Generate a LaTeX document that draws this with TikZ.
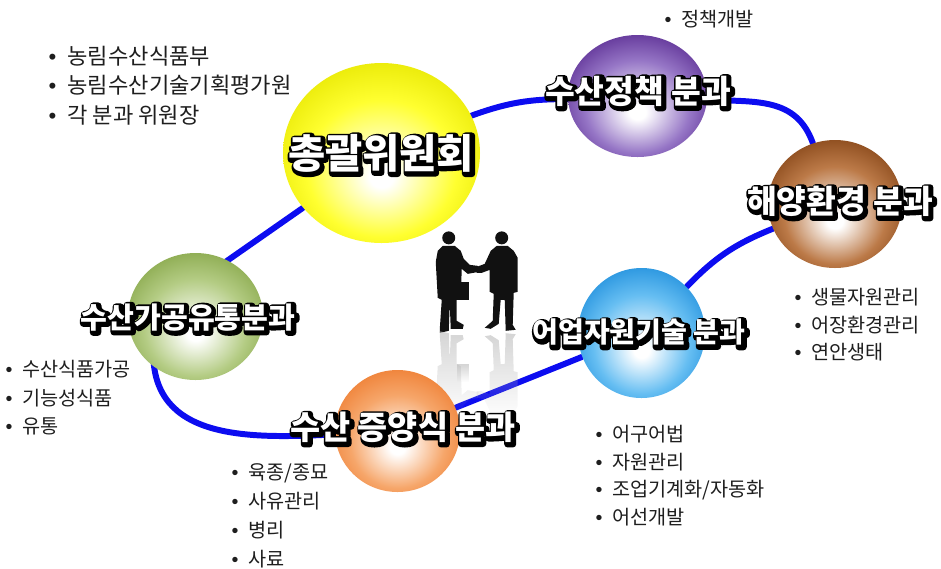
\documentclass[tikz,border=0pt]{standalone}
\usepackage{fontspec}
\usepackage{tikz}
\usetikzlibrary{shapes.geometric,backgrounds,fadings}
\newfontfamily\kr{Noto Sans CJK KR}
\IfFontExistsTF{Noto Sans CJK KR Black}
  {\newfontfamily\krhead{Noto Sans CJK KR Black}}
  {\newfontfamily\krhead{Noto Sans CJK KR}[UprightFont=*/B]}
\newfontfamily\bulletfont{Liberation Sans}

\definecolor{ring}{HTML}{0C0CF0}
\definecolor{ink}{HTML}{1E1E1E}
\definecolor{figure}{HTML}{111111}
\definecolor{yellowmid}{HTML}{FFFF30}
\definecolor{yellowrim}{HTML}{E6E600}
\definecolor{purplemid}{HTML}{9676C6}
\definecolor{purplerim}{HTML}{5A2C92}
\definecolor{brownmid}{HTML}{BC7A48}
\definecolor{brownrim}{HTML}{844416}
\definecolor{greenmid}{HTML}{B4CC84}
\definecolor{greenrim}{HTML}{86A648}
\definecolor{orangemid}{HTML}{F6A66A}
\definecolor{orangerim}{HTML}{EE7C30}
\definecolor{bluemid}{HTML}{66BEF2}
\definecolor{bluerim}{HTML}{1E8EDC}

% glossy spheres: white spot a bit below the middle
\newcommand\sphereshading[3]{%
  \pgfdeclareradialshading{#1}{\pgfpoint{0bp}{-7bp}}{%
    color(0bp)=(white); color(3bp)=(white); color(19bp)=(#2);
    color(31bp)=(#3); color(50bp)=(#3)}}
\sphereshading{sphereyellow}{yellowmid}{yellowrim}
\sphereshading{spherepurple}{purplemid}{purplerim}
\sphereshading{spherebrown}{brownmid}{brownrim}
\sphereshading{spheregreen}{greenmid}{greenrim}
\sphereshading{sphereorange}{orangemid}{orangerim}
\sphereshading{sphereblue}{bluemid}{bluerim}

% white letters on a thick black stroked copy, pushed down-right as a shadow
\newcommand\pdfdirect[1]{\special{pdf:literal direct #1}}
\newcommand\rimtext[1]{%
  \rlap{\kern0.45pt\raisebox{-0.45pt}{%
    \pdfdirect{1 j 0 g 0 G 2 Tr 1.9 w}#1\pdfdirect{0 Tr}}}%
  \pdfdirect{1 g}#1\pdfdirect{0 g}}
\newcommand\itm{{\bulletfont\textbullet}\hspace{0.5em}}

\tikzfading[name=fade down, top color=transparent!45, bottom color=transparent!100]

% two men shaking hands, in pixel units
\newcommand\twomen[1]{%
  \fill[#1] (449,238) circle (6.5);
  \fill[#1] (443,246) -- (455,246) -- (461,251) -- (464,259) -- (470,265)
    -- (478,266) -- (479,272) -- (468,274) -- (462,269) -- (461,298)
    -- (457,300) -- (457,321) -- (464,325) -- (463,329) -- (451,329)
    -- (450,304) -- (449,331) -- (440,333) -- (440,330) -- (442,300)
    -- (438,298) -- (436,262) -- (438,251) -- cycle;
  \fill[#1] (457,282) rectangle (469,300);
  \fill[#1] (502,238) circle (6.5);
  \fill[#1] (497,246) -- (508,246) -- (514,251) -- (518,258) -- (518,292)
    -- (514,293) -- (513,325) -- (516,330) -- (506,331) -- (505,300)
    -- (501,300) -- (499,324) -- (491,329) -- (485,328) -- (493,321)
    -- (494,294) -- (490,292) -- (490,270) -- (482,273) -- (477,273)
    -- (477,267) -- (485,264) -- (491,251) -- cycle;
}

\tikzset{
  sphere/.style 2 args={ellipse, draw=none, inner sep=0pt,
    minimum width=#1cm, minimum height=#2cm},
  title/.style={font=\krhead\fontsize{#1}{#1}\selectfont, inner sep=0pt},
  items/.style 2 args={font=\kr\fontsize{#1}{#2}\selectfont, text=ink,
    align=left, anchor=north west, inner sep=0pt},
  loopline/.style={draw=ring, line width=1.7pt, line cap=round},
}

\begin{document}
\begin{tikzpicture}
  \useasboundingbox (0,0) rectangle (9.41,-5.68);

  % committees
  \node[sphere={1.97}{1.80}, shading=sphereyellow] (total) at (3.815,-1.53) {};
  \node[sphere={1.39}{1.22}, shading=spherepurple] (policy) at (6.375,-0.96) {};
  \node[sphere={1.34}{1.28}, shading=spherebrown] (marine) at (8.35,-2.04) {};
  \node[sphere={1.35}{1.27}, shading=spheregreen] (process) at (1.955,-3.165) {};
  \node[sphere={1.25}{1.22}, shading=sphereorange] (aqua) at (3.975,-4.31) {};
  \node[sphere={1.27}{1.30}, shading=sphereblue] (fishery) at (6.415,-3.33) {};

  % blue loop and the handshake behind them
  \begin{scope}[on background layer]
    \draw[loopline] (total) to[bend left=10] (policy);
    \draw[loopline] (policy) to[out=-3,in=110,looseness=1.1] (marine);
    \draw[loopline] (marine) to[bend right=12] (fishery);
    \draw[loopline] (fishery) -- (aqua);
    \draw[loopline, shorten >=-4pt] (aqua) .. controls +(-1.5,-0.08) and +(0,-0.73) .. (process.-130);
    \draw[loopline, shorten <=-4pt] (process.60) -- (total);
    \begin{scope}[x=0.01cm, y=-0.01cm]
      \twomen{figure}
      \begin{scope}[yshift=-6.64cm, yscale=-1]
        \twomen{gray!60, path fading=fade down}
      \end{scope}
    \end{scope}
  \end{scope}

  % committee names
  \node[title=11.5] (totalName) at (3.81,-1.54) {\rimtext{총괄위원회}};
  \node[title=9.2] (policyName) at (6.38,-0.92) {\rimtext{수산정책 분과}};
  \node[title=9.2] (marineName) at (8.40,-2.02) {\rimtext{해양환경 분과}};
  \node[title=8.3] (processName) at (1.88,-3.18) {\rimtext{수산가공유통분과}};
  \node[title=9.3] (aquaName) at (4.03,-4.28) {\rimtext{수산 증양식 분과}};
  \node[title=8.0] (fisheryName) at (6.39,-3.33) {\rimtext{어업자원기술 분과}};

  % members and tasks
  \node[items={6.3}{8.5}] (totalList) at (0.48,-0.45)
    {\itm 농림수산식품부\\ \itm 농림수산기술기획평가원\\ \itm 각 분과 위원장};
  \node[items={5.6}{7.8}] (policyList) at (6.64,-0.10) {\itm 정책개발};
  \node[items={5.6}{7.7}] (marineList) at (7.94,-2.88)
    {\itm 생물자원관리\\ \itm 어장환경관리\\ \itm 연안생태};
  \node[items={5.6}{8.1}] (processList) at (0.05,-3.60)
    {\itm 수산식품가공\\ \itm 기능성식품\\ \itm 유통};
  \node[items={5.6}{8.2}] (aquaList) at (2.31,-4.63)
    {\itm 육종/종묘\\ \itm 사유관리\\ \itm 병리\\ \itm 사료};
  \node[items={5.6}{7.8}] (fisheryList) at (5.95,-4.25)
    {\itm 어구어법\\ \itm 자원관리\\ \itm 조업기계화/자동화\\ \itm 어선개발};
\end{tikzpicture}
\end{document}
